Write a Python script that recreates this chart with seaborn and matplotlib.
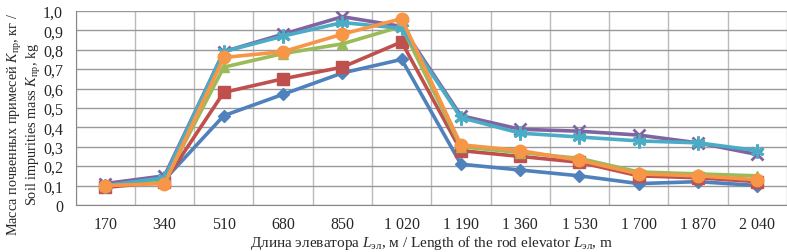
import pandas as pd
import numpy as np
import matplotlib
matplotlib.use("Agg")
import matplotlib.pyplot as plt
import seaborn as sns

lengths = ["170", "340", "510", "680", "850", "1 020", "1 190", "1 360", "1 530", "1 700", "1 870", "2 040"]

blue = [0.10, 0.13, 0.46, 0.57, 0.68, 0.75, 0.21, 0.18, 0.15, 0.11, 0.12, 0.10]
red = [0.09, 0.12, 0.58, 0.65, 0.71, 0.84, 0.28, 0.25, 0.22, 0.15, 0.14, 0.12]
green = [0.10, 0.12, 0.71, 0.78, 0.83, 0.92, 0.30, 0.27, 0.24, 0.17, 0.16, 0.15]
purple = [0.11, 0.15, 0.79, 0.88, 0.97, 0.92, 0.46, 0.39, 0.38, 0.36, 0.32, 0.26]
cyan = [0.10, 0.14, 0.79, 0.87, 0.94, 0.91, 0.45, 0.37, 0.35, 0.33, 0.32, 0.28]
orange = [0.10, 0.11, 0.76, 0.79, 0.88, 0.96, 0.31, 0.28, 0.23, 0.16, 0.15, 0.13]

series = {"s1": blue, "s2": red, "s3": green, "s4": purple, "s5": cyan, "s6": orange}
colors = {"s1": "#4F81BD", "s2": "#C0504D", "s3": "#9BBB59",
          "s4": "#8064A2", "s5": "#4BACC6", "s6": "#F79646"}
markers = {"s1": "D", "s2": "s", "s3": "^", "s4": "x", "s5": (6, 2, 0), "s6": "o"}
msize = {"s1": 6, "s2": 8, "s3": 7, "s4": 9, "s5": 10, "s6": 9}

rows = []
for name, vals in series.items():
    for i, v in enumerate(vals):
        rows.append({"pos": i, "value": v, "series": name})
df = pd.DataFrame(rows)

sns.set_style("white")
plt.rcParams['font.family'] = ['Liberation Serif', 'DejaVu Serif']
plt.rcParams['mathtext.fontset'] = 'custom'
plt.rcParams['mathtext.rm'] = 'Liberation Serif'
plt.rcParams['mathtext.it'] = 'Liberation Serif:italic'

fig = plt.figure(figsize=(7.87, 2.53), dpi=100)
ax = fig.add_axes([0.096, 0.186, 0.904, 0.767])

for name in series:
    sub = df[df["series"] == name]
    sns.lineplot(data=sub, x="pos", y="value", ax=ax, color=colors[name],
                 marker=markers[name], markersize=msize[name], linewidth=2.6,
                 markeredgecolor=colors[name], markeredgewidth=2 if name in ("s4", "s5") else 1,
                 legend=False)

ax.set_xlim(-0.5, 11.45)
ax.set_ylim(0, 1.0)
ax.set_yticks(np.arange(0, 1.01, 0.1))
ax.set_yticklabels(["0"] + [f"{v:.1f}".replace(".", ",") for v in np.arange(0.1, 1.01, 0.1)])
ax.set_xticks(range(len(lengths)))
ax.set_xticklabels(lengths)
ax.set_xticks(np.arange(-0.5, 11.6, 1), minor=True)
ax.tick_params(axis="x", which="major", length=0, labelsize=11.5, pad=8)
ax.tick_params(axis="x", which="minor", length=5, color="#888888", direction="out")
ax.tick_params(axis="y", length=5, color="#888888", labelsize=11.5, pad=4)
ax.grid(True, axis="y", color="#999999", linewidth=1)
ax.grid(True, axis="x", which="minor", color="#bbbbbb", linewidth=1)
for s in ("top", "right"):
    ax.spines[s].set_visible(False)
for s in ("left", "bottom"):
    ax.spines[s].set_color("#888888")
ax.set_axisbelow(True)

ax.set_xlabel(r"Длина элеватора $L_{\rm эл}$, м / Length of the rod elevator $L_{\rm эл}$, m",
              fontsize=11, labelpad=1)
ax.set_ylabel("Масса почвенных примесей $K_{\\rm пр}$, кг /\nSoil impurities mass $K_{\\rm пр}$, kg",
              fontsize=10.3, linespacing=1.05)
ax.yaxis.set_label_coords(-0.046, 0.42)

fig.savefig("out.png", dpi=100)
